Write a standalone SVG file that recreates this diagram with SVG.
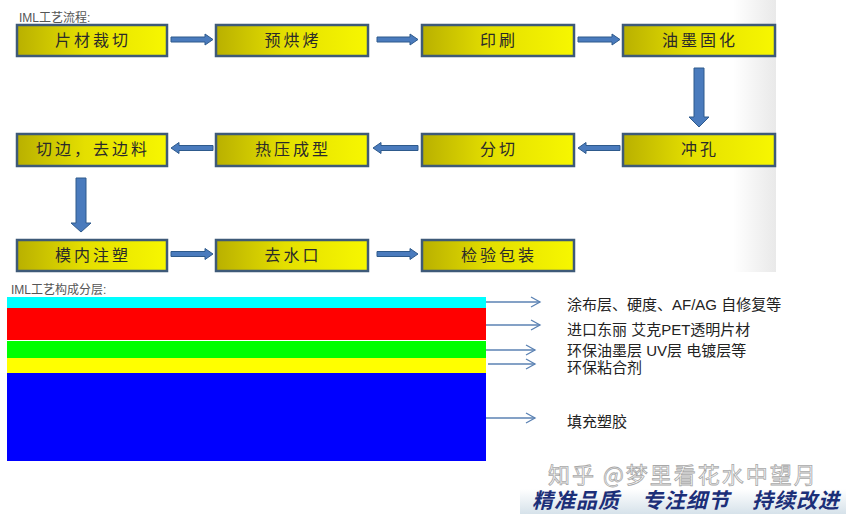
<svg xmlns="http://www.w3.org/2000/svg" width="846" height="514" viewBox="0 0 846 514">
<defs>
<linearGradient id="boxg" x1="0" y1="0" x2="1" y2="0">
<stop offset="0" stop-color="#b9b000"/>
<stop offset="0.45" stop-color="#e4df00"/>
<stop offset="1" stop-color="#f7f700"/>
</linearGradient>
<linearGradient id="shade" x1="0" y1="0" x2="1" y2="0">
<stop offset="0" stop-color="#ffffff"/>
<stop offset="1" stop-color="#e9e9e9"/>
</linearGradient>
<linearGradient id="banner" x1="0" y1="0" x2="0" y2="1">
<stop offset="0" stop-color="#ffffff"/>
<stop offset="1" stop-color="#d6e2ea"/>
</linearGradient>
<marker id="open" markerWidth="12" markerHeight="12" refX="10" refY="6" orient="auto" markerUnits="userSpaceOnUse">
<path d="M1,1 L10,6 L1,11" fill="none" stroke="#5b82b3" stroke-width="1.3"/>
</marker>
</defs>
<style>
.box{fill:url(#boxg);stroke:#3e5a78;stroke-width:2.5}
.bt{font-family:"Noto Sans CJK SC","Noto Sans",sans-serif;font-size:16px;fill:#2a2a2a;text-anchor:middle;letter-spacing:3px}
.cap{font-family:"Liberation Sans","Noto Sans CJK SC",sans-serif;font-size:12px;fill:#555}
.blk{fill:#4a7bbd;stroke:#2e5a8c;stroke-width:1}
.thin{stroke:#5b82b3;stroke-width:1.3;fill:none;marker-end:url(#open)}
.lt{font-family:"Liberation Sans","Noto Sans CJK SC",sans-serif;font-size:15px;fill:#222}
</style>
<rect width="846" height="514" fill="#ffffff"/>
<rect x="733" y="0" width="43" height="272" fill="url(#shade)"/>

<text class="cap" x="19" y="22">IML工艺流程:</text>

<g id="n1"><rect class="box" x="17" y="25" width="150" height="31"/><text class="bt" x="93" y="46">片材裁切</text></g>
<g id="n2"><rect class="box" x="216" y="25" width="152" height="31"/><text class="bt" x="293" y="46">预烘烤</text></g>
<g id="n3"><rect class="box" x="422" y="25" width="152" height="31"/><text class="bt" x="499" y="46">印刷</text></g>
<g id="n4"><rect class="box" x="623" y="25" width="152" height="31"/><text class="bt" x="700" y="46">油墨固化</text></g>

<g id="n8"><rect class="box" x="17" y="134" width="150" height="32"/><text class="bt" x="93" y="155">切边，去边料</text></g>
<g id="n7"><rect class="box" x="216" y="134" width="152" height="32"/><text class="bt" x="293" y="155">热压成型</text></g>
<g id="n6"><rect class="box" x="422" y="134" width="152" height="32"/><text class="bt" x="499" y="155">分切</text></g>
<g id="n5"><rect class="box" x="623" y="134" width="152" height="32"/><text class="bt" x="700" y="155">冲孔</text></g>

<g id="n9"><rect class="box" x="17" y="240" width="150" height="31"/><text class="bt" x="93" y="261">模内注塑</text></g>
<g id="n10"><rect class="box" x="216" y="240" width="152" height="31"/><text class="bt" x="293" y="261">去水口</text></g>
<g id="n11"><rect class="box" x="422" y="240" width="152" height="31"/><text class="bt" x="499" y="261">检验包装</text></g>

<g id="connectors">
<path class="blk" d="M171,37 L205,37 L205,34 L213,39.5 L205,45 L205,42 L171,42 Z"/>
<path class="blk" d="M377,37 L410,37 L410,34 L418,39.5 L410,45 L410,42 L377,42 Z"/>
<path class="blk" d="M578,37 L612,37 L612,34 L620,39.5 L612,45 L612,42 L578,42 Z"/>
<path class="blk" d="M694,68 L704,68 L704,117 L709,117 L699,127 L689,117 L694,117 Z"/>
<path class="blk" d="M620,145.5 L586,145.5 L586,142.5 L578,148 L586,153.5 L586,150.5 L620,150.5 Z"/>
<path class="blk" d="M418,145.5 L381,145.5 L381,142.5 L373,148 L381,153.5 L381,150.5 L418,150.5 Z"/>
<path class="blk" d="M213,145.5 L179,145.5 L179,142.5 L171,148 L179,153.5 L179,150.5 L213,150.5 Z"/>
<path class="blk" d="M76,178 L86,178 L86,223 L91,223 L81,232 L71,223 L76,223 Z"/>
<path class="blk" d="M171,251.5 L205,251.5 L205,248.5 L213,254 L205,259.5 L205,256.5 L171,256.5 Z"/>
<path class="blk" d="M377,251.5 L410,251.5 L410,248.5 L418,254 L410,259.5 L410,256.5 L377,256.5 Z"/>
</g>

<text class="cap" x="11" y="294">IML工艺构成分层:</text>

<g id="layers">
<rect x="7" y="297" width="479" height="11" fill="#00ffff"/>
<rect x="7" y="308" width="479" height="32" fill="#ff0000"/>
<rect x="7" y="341" width="479" height="17" fill="#00ff00"/>
<rect x="7" y="358" width="479" height="15" fill="#ffff00"/>
<rect x="7" y="373" width="479" height="88" fill="#0000ff"/>
</g>

<g id="layer-arrows">
<line class="thin" x1="486" y1="302" x2="540" y2="302"/>
<line class="thin" x1="486" y1="325" x2="540" y2="325"/>
<line class="thin" x1="486" y1="350" x2="535" y2="350"/>
<line class="thin" x1="488" y1="364" x2="535" y2="364"/>
<line class="thin" x1="486" y1="418" x2="535" y2="418"/>
</g>

<text class="lt" x="567" y="310">涂布层、硬度、AF/AG 自修复等</text>
<text class="lt" x="567" y="335">进口东丽 艾克PET透明片材</text>
<text class="lt" x="567" y="356">环保油墨层 UV层 电镀层等</text>
<text class="lt" x="567" y="373">环保粘合剂</text>
<text class="lt" x="567" y="427">填充塑胶</text>

<rect x="520" y="489" width="326" height="25" fill="url(#banner)"/>
<text x="548" y="483" font-family="Noto Sans CJK SC,sans-serif" font-size="22" fill="#ffffff" stroke="#a8a8a8" stroke-width="0.8" letter-spacing="2">知乎 @梦里看花水中望月</text>
<text x="532" y="508" font-family="Noto Sans CJK SC,sans-serif" font-size="21" font-weight="bold" font-style="italic" fill="#1c2f78" letter-spacing="1">精准品质　专注细节　持续改进</text>
</svg>
